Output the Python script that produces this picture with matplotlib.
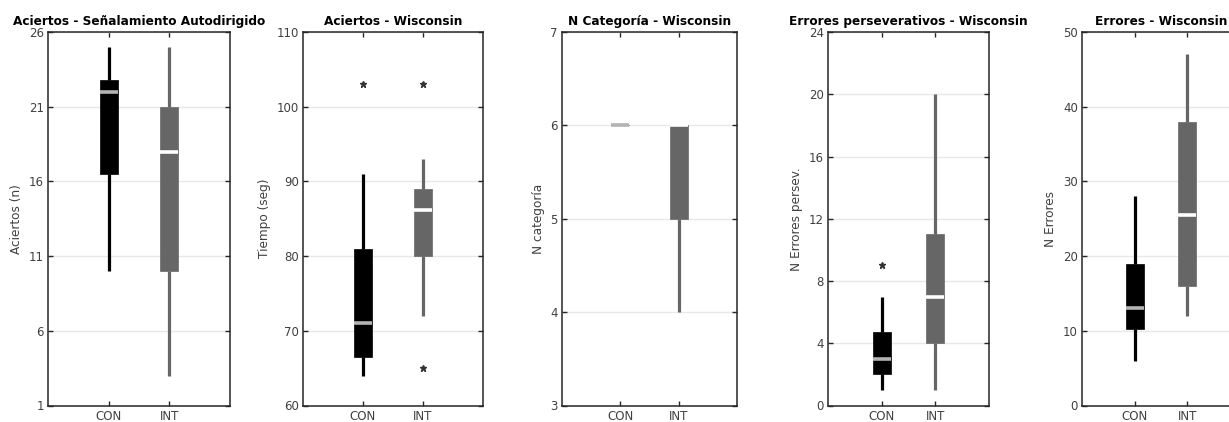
import matplotlib
matplotlib.use("Agg")
import matplotlib.pyplot as plt

groups = ["CON", "INT"]

titles = ["Aciertos - Señalamiento Autodirigido", "Aciertos - Wisconsin",
          "N Categoría - Wisconsin", "Errores perseverativos - Wisconsin",
          "Errores - Wisconsin"]
ylabels = ["Aciertos (n)", "Tiempo (seg)", "N categoría", "N Errores persev.", "N Errores"]
ylims = [(1, 26), (60, 110), (3, 7), (0, 24), (0, 50)]
yticks = [[1, 6, 11, 16, 21, 26], [60, 70, 80, 90, 100, 110], [3, 4, 5, 6, 7],
          [0, 4, 8, 12, 16, 20, 24], [0, 10, 20, 30, 40, 50]]

# [whislo, q1, med, q3, whishi] for CON and INT
con_stats = [[10, 16.5, 22, 22.8, 25], [64, 66.5, 71, 81, 91], [6, 6, 6, 6, 6],
             [1, 2, 3, 4.75, 7], [6, 10.3, 13, 19, 28]]
int_stats = [[3, 10, 18, 21, 25], [72, 80, 86.2, 89, 93], [4, 5, 6, 6, 6],
             [1, 4, 7, 11, 20], [12, 16, 25.5, 38, 47]]
con_out = [[], [103], [], [9], []]
int_out = [[], [103, 65], [], [], []]

W, H = 1229, 422
fig = plt.figure(figsize=(W / 100, H / 100), dpi=100)

# axes pixel extents (left, right)
xpx = [(48, 230), (303, 483), (562, 737), (828, 989), (1082, 1240)]
top, bot = 32, 405.5

dark = "#262626"
box_colors = ["#000000", "#666666"]
med_colors = ["#b3b3b3", "#ffffff"]

for i in range(5):
    l, r = xpx[i]
    ax = fig.add_axes([l / W, (H - bot) / H, (r - l) / W, (bot - top) / H])
    ppu = (r - l) / 3.0
    bw = 18 / ppu
    for j, (st, outl) in enumerate([(con_stats[i], con_out[i]), (int_stats[i], int_out[i])]):
        d = dict(whislo=st[0], q1=st[1], med=st[2], q3=st[3], whishi=st[4], fliers=outl)
        ax.bxp([d], positions=[j + 1], widths=bw, patch_artist=True, showcaps=False,
               boxprops=dict(facecolor=box_colors[j], edgecolor=box_colors[j], linewidth=0.5),
               whiskerprops=dict(color=box_colors[j], linewidth=2.3, solid_capstyle="butt"),
               medianprops=dict(color=med_colors[j], linewidth=2.6, solid_capstyle="butt"),
               flierprops=dict(marker="*", markersize=5, markerfacecolor="#333333",
                               markeredgecolor="#333333", linestyle="none"),
               zorder=3)
    ax.set_xlim(0, 3)
    ax.set_ylim(*ylims[i])
    ax.set_yticks(yticks[i])
    ax.set_xticks([1, 2])
    ax.set_xticklabels(groups)
    ax.grid(axis="y", color="#e8e8e8", linewidth=1.0, zorder=0)
    ax.set_axisbelow(True)
    ax.tick_params(direction="in", length=3.5, width=1.0, colors=dark, labelsize=8.5,
                   top=True, right=True, pad=3)
    for tl in ax.get_xticklabels() + ax.get_yticklabels():
        tl.set_color("#404040")
    for sp in ax.spines.values():
        sp.set_color(dark)
        sp.set_linewidth(1.1)
    ax.set_ylabel(ylabels[i], fontsize=8.7, color="#404040", labelpad=4)
    ax.set_title(titles[i], fontsize=8.75, fontweight="bold", color="black", pad=5)

fig.savefig("out.png", dpi=100)
